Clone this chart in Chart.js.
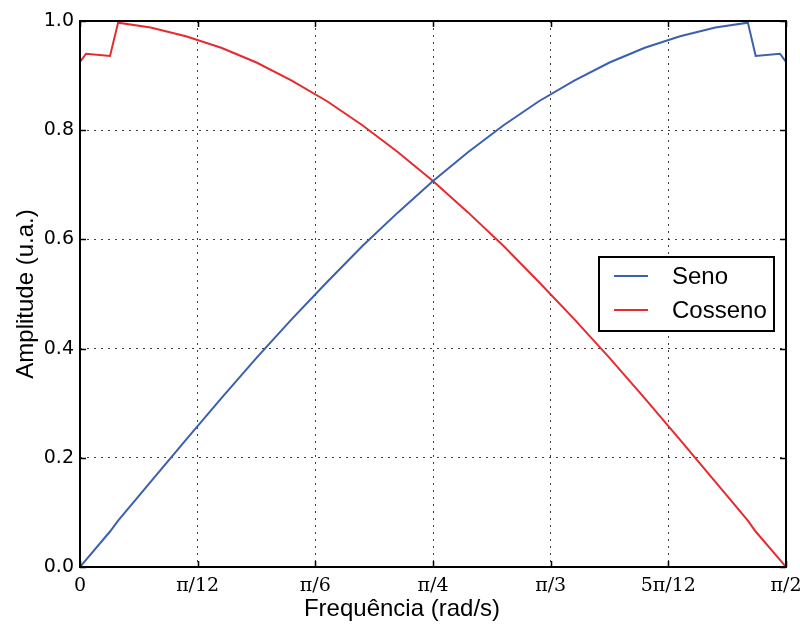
<!DOCTYPE html>
<html>
<head>
<meta charset="utf-8">
<script src="https://cdn.jsdelivr.net/npm/chart.js@4"></script>
<style>
html,body{margin:0;padding:0;background:#fff;}
#wrap{width:800px;height:628px;position:relative;}
</style>
</head>
<body>
<div id="wrap"><canvas id="c" width="800" height="628"></canvas></div>
<script>
// Frequency values (rad/s)
const freq = [0, 0.0134, 0.0668, 0.0848, 0.1571, 0.2356, 0.3142, 0.3927, 0.4712, 0.5498, 0.6283, 0.7069, 0.7854, 0.8639, 0.9425, 1.0210, 1.0996, 1.1781, 1.2566, 1.3352, 1.4137, 1.4860, 1.5033, 1.5574, 1.5708];
// Series values
const seno = [0, 0.013, 0.065, 0.085, 0.156, 0.233, 0.309, 0.383, 0.454, 0.522, 0.588, 0.649, 0.707, 0.760, 0.809, 0.853, 0.891, 0.924, 0.951, 0.972, 0.988, 0.997, 0.936, 0.940, 0.925];
const cosseno = [0.925, 0.940, 0.936, 0.997, 0.988, 0.972, 0.951, 0.924, 0.891, 0.853, 0.809, 0.760, 0.707, 0.649, 0.588, 0.522, 0.454, 0.383, 0.309, 0.233, 0.156, 0.085, 0.065, 0.013, 0];
// X tick positions (multiples of pi/12) and labels
const xTickValues = [0, Math.PI/12, Math.PI/6, Math.PI/4, Math.PI/3, 5*Math.PI/12, Math.PI/2];
const xTickLabels = ["0", "π/12", "π/6", "π/4", "π/3", "5π/12", "π/2"];
const seriesNames = ["Seno", "Cosseno"];
const seriesColors = ["#3b60ae", "#e62a2e"];
const xTitle = "Frequência (rad/s)";
const yTitle = "Amplitude (u.a.)";

const toPts = (ys) => ys.map((y, i) => ({x: freq[i], y: y}));
const SANS = '"Liberation Sans", Arial, sans-serif';

const framePlugin = {
  id: 'frame',
  afterDraw(chart) {
    const {ctx, chartArea: a, scales} = chart;
    ctx.save();
    // inward ticks
    ctx.strokeStyle = '#000';
    ctx.lineWidth = 1.5;
    ctx.beginPath();
    scales.x.ticks.forEach(t => {
      const px = Math.round(scales.x.getPixelForValue(t.value)) + 0.5;
      ctx.moveTo(px, a.bottom); ctx.lineTo(px, a.bottom - 6);
      ctx.moveTo(px, a.top); ctx.lineTo(px, a.top + 6);
    });
    scales.y.ticks.forEach(t => {
      const py = Math.round(scales.y.getPixelForValue(t.value)) + 0.5;
      ctx.moveTo(a.left, py); ctx.lineTo(a.left + 6, py);
      ctx.moveTo(a.right, py); ctx.lineTo(a.right - 6, py);
    });
    ctx.stroke();
    // spines
    ctx.lineWidth = 2;
    ctx.strokeRect(a.left, a.top, a.right - a.left, a.bottom - a.top);
    // x title (centered on figure like the reference)
    ctx.fillStyle = '#000';
    ctx.font = '24px ' + SANS;
    ctx.textAlign = 'center';
    ctx.textBaseline = 'alphabetic';
    ctx.fillText(xTitle, 402, 616);
    // legend
    const lx = 599, ly = 257, lw = 175, lh = 74;
    ctx.fillStyle = '#fff';
    ctx.fillRect(lx, ly, lw, lh);
    ctx.lineWidth = 2;
    ctx.strokeStyle = '#000';
    ctx.strokeRect(lx, ly, lw, lh);
    chart.data.datasets.forEach((ds, i) => {
      const y = 276 + i * 34;
      ctx.strokeStyle = ds.borderColor;
      ctx.lineWidth = 2;
      ctx.beginPath();
      ctx.moveTo(614, y); ctx.lineTo(648, y);
      ctx.stroke();
      ctx.fillStyle = '#000';
      ctx.font = '24px ' + SANS;
      ctx.textAlign = 'left';
      ctx.textBaseline = 'middle';
      ctx.fillText(ds.label, 672, y + 1);
    });
    ctx.restore();
  }
};

new Chart(document.getElementById('c'), {
  type: 'line',
  data: {
    datasets: [
      {label: seriesNames[0], data: toPts(seno), borderColor: seriesColors[0], backgroundColor: seriesColors[0], borderWidth: 2, pointRadius: 0, tension: 0, fill: false},
      {label: seriesNames[1], data: toPts(cosseno), borderColor: seriesColors[1], backgroundColor: seriesColors[1], borderWidth: 2, pointRadius: 0, tension: 0, fill: false}
    ]
  },
  options: {
    responsive: false,
    animation: false,
    devicePixelRatio: 1,
    layout: {padding: {left: 0, right: 14, top: 21, bottom: 0}},
    plugins: {legend: {display: false}, tooltip: {enabled: false}},
    scales: {
      x: {
        type: 'linear',
        min: 0,
        max: Math.PI / 2,
        afterBuildTicks(scale) { scale.ticks = xTickValues.map(v => ({value: v})); },
        afterFit(scale) { scale.height = 61; scale.paddingLeft = 0; scale.paddingRight = 0; },
        ticks: {
          autoSkip: false, maxRotation: 0, padding: 8,
          color: '#000',
          font: {family: '"DejaVu Serif", serif', size: 19},
          callback: (v, i) => xTickLabels[i]
        },
        grid: {color: 'rgba(0,0,0,0.75)', lineWidth: 1, drawTicks: false},
        border: {display: false, dash: [2, 5]}
      },
      y: {
        type: 'linear',
        min: 0,
        max: 1,
        afterFit(scale) { scale.width = 80; scale.paddingTop = 0; scale.paddingBottom = 0; },
        ticks: {
          stepSize: 0.2, padding: 6, color: '#000',
          font: {family: '"DejaVu Sans", sans-serif', size: 19},
          callback: (v) => Number(v).toFixed(1)
        },
        grid: {color: 'rgba(0,0,0,0.75)', lineWidth: 1, drawTicks: false},
        border: {display: false, dash: [2, 5]},
        title: {
          display: true, text: yTitle, color: '#000',
          font: {family: SANS, size: 24},
          padding: {top: 12, bottom: 0}
        }
      }
    }
  },
  plugins: [framePlugin]
});
</script>
</body>
</html>
